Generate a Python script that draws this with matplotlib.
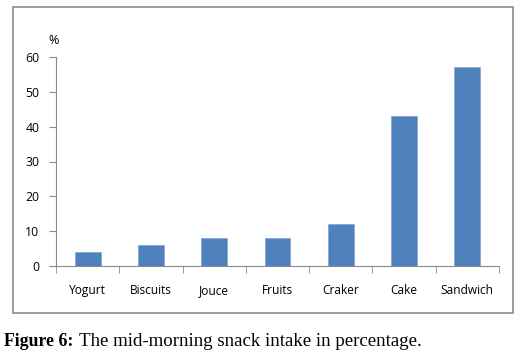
import matplotlib.pyplot as plt
from matplotlib.patches import Rectangle

# snack categories and share of pupils (%)
snacks = ["Yogurt", "Biscuits", "Jouce", "Fruits", "Craker", "Cake", "Sandwich"]
percent = [4, 6, 8, 8, 12, 43, 57]
yticks = [0, 10, 20, 30, 40, 50, 60]

W, H = 529, 357
fig = plt.figure(figsize=(W / 100, H / 100), dpi=100)

# outer chart box
fig.patches.append(Rectangle((13 / W, 1 - 313 / H), 500 / W, 306 / H,
                             transform=fig.transFigure, fill=False,
                             edgecolor="#8c8c8c", linewidth=1.2))

ax = fig.add_axes([56 / W, 1 - 266 / H, 443 / W, 209 / H])
x = list(range(len(snacks)))
ax.bar(x, percent, width=0.41, color="#4f81bd", edgecolor="#7fa3d0", linewidth=0.5)

ax.set_xlim(-0.5, len(snacks) - 0.5)
ax.set_ylim(0, 60)
ax.set_yticks(yticks)
ax.set_yticklabels([str(v) for v in yticks], fontsize=8.8, family="Open Sans")
ax.set_xticks(x)
ax.set_xticklabels(snacks, fontsize=8.6, family="Open Sans")
ax.tick_params(axis="x", length=0, pad=13)
ax.tick_params(axis="y", length=5, color="#8c8c8c", pad=7)
# category separator ticks on the x axis
ax.set_xticks([i - 0.5 for i in range(len(snacks) + 1)], minor=True)
ax.tick_params(axis="x", which="minor", length=5, color="#8c8c8c")

for s in ["top", "right"]:
    ax.spines[s].set_visible(False)
for s in ["left", "bottom"]:
    ax.spines[s].set_color("#8c8c8c")

fig.text(48 / W, 1 - 40 / H, "%", fontsize=9, family="Open Sans", va="center")

fig.text(4 / W, 1 - 341 / H, "Figure 6:", fontsize=12.8, family="Liberation Serif",
         weight="bold", va="center")
fig.text(79 / W, 1 - 341 / H, "The mid-morning snack intake in percentage.",
         fontsize=13.6, family="Liberation Serif", va="center")

fig.savefig("out.png", dpi=100)
